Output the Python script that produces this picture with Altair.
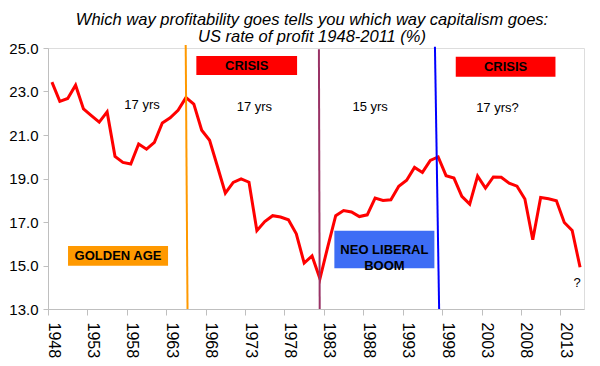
import altair as alt
import pandas as pd

# ---- data -------------------------------------------------------------
years = list(range(1948, 2016))
rate = [23.43, 22.55, 22.68, 23.29, 22.20, 21.89, 21.59, 22.06, 20.02, 19.74,
        19.67, 20.59, 20.35, 20.66, 21.55, 21.79, 22.14, 22.72, 22.42, 21.22,
        20.76, 19.55, 18.33, 18.82, 18.98, 18.83, 16.60, 17.02, 17.29, 17.23,
        17.10, 16.46, 15.11, 15.44, 14.39, 15.87, 17.29, 17.53, 17.46, 17.25,
        17.33, 18.10, 17.99, 18.02, 18.64, 18.92, 19.51, 19.28, 19.83, 19.99,
        19.13, 19.02, 18.18, 17.82, 19.11, 18.56, 19.07, 19.06, 18.78, 18.65,
        18.06, 16.18, 18.13, 18.07, 17.98, 16.98, 16.61, 14.92]

# turning-point lines (year at top, year at bottom, top value)
turn_x = [1964.97, 1981.87, 1996.59]
turn_x2 = [1965.20, 1981.97, 1997.12]
turn_top = [25.14, 24.94, 25.06]
turn_color = ["#FF9900", "#993366", "#0000FF"]

# labelled boxes
box_label = ["CRISIS", "CRISIS", "GOLDEN AGE", "NEO LIBERAL\nBOOM"]
box_x = [1966.32, 1999.23, 1950.04, 1983.83]
box_x2 = [1979.10, 2011.88, 1962.73, 1996.52]
box_y = [24.63, 24.60, 15.90, 16.60]
box_y2 = [23.76, 23.68, 14.99, 14.87]
box_fill = ["#FF0000", "#FF0000", "#FF9900", "#3D6DF5"]

# free text notes
note_text = ["17 yrs", "17 yrs", "15 yrs", "17 yrs?", "?"]
note_x = [1959.43, 1973.68, 1988.37, 2004.52, 2014.63]
note_y = [22.38, 22.27, 22.30, 22.24, 14.21]

x_tick_values = [1947.5 + 5 * k for k in range(14)]
y_tick_values = [13, 15, 17, 19, 21, 23, 25]

FONT = "Liberation Sans"

# ---- tables -------------------------------------------------------------
df = pd.DataFrame({"year": years, "rate": rate})
turns = pd.DataFrame({"x": turn_x, "x2": turn_x2, "top": turn_top,
                      "bottom": [13] * 3, "color": turn_color})
boxes = pd.DataFrame({"label": box_label, "x": box_x, "x2": box_x2,
                      "y": box_y, "y2": box_y2, "fill": box_fill})
boxes["cx"] = (boxes["x"] + boxes["x2"]) / 2
boxes["cy"] = (boxes["y"] + boxes["y2"]) / 2
notes = pd.DataFrame({"text": note_text, "x": note_x, "y": note_y})

xscale = alt.Scale(domain=[1947.5, 2015.5], nice=False, zero=False)
yscale = alt.Scale(domain=[13, 25], nice=False, zero=False)

xaxis = alt.Axis(values=x_tick_values, labelExpr="format(datum.value + 0.5, 'd')",
                 labelAngle=90, labelAlign="left", labelBaseline="alphabetic",
                 labelFontSize=16, labelFont=FONT, labelColor="black",
                 tickSize=6, labelPadding=7, domainColor="#BFBFBF",
                 tickColor="#BFBFBF", grid=False, title=None)
yaxis = alt.Axis(values=y_tick_values, format=".1f", labelFontSize=15,
                 labelFont=FONT, labelColor="black", tickSize=5,
                 labelPadding=5, domainColor="#BFBFBF", tickColor="#BFBFBF",
                 grid=False, title=None)

line = alt.Chart(df).mark_line(color="#FF0000", strokeWidth=3).encode(
    x=alt.X("year:Q", scale=xscale, axis=xaxis),
    y=alt.Y("rate:Q", scale=yscale, axis=yaxis),
)

rules = alt.Chart(turns).mark_rule(strokeWidth=2).encode(
    x="x:Q", x2="x2:Q", y="top:Q", y2="bottom:Q",
    color=alt.Color("color:N", scale=None),
)

rects = alt.Chart(boxes).mark_rect().encode(
    x="x:Q", x2="x2:Q", y="y:Q", y2="y2:Q",
    color=alt.Color("fill:N", scale=None),
)

box_text = alt.Chart(boxes).transform_calculate(
    lines="split(datum.label, '\\n')"
).mark_text(font=FONT, fontSize=13, fontWeight="bold", color="black",
            lineHeight=16, align="center", baseline="middle").encode(
    x="cx:Q", y="cy:Q", text="lines:N",
)

note_marks = alt.Chart(notes).mark_text(font=FONT, fontSize=13, color="black",
                                        align="center", baseline="middle").encode(
    x="x:Q", y="y:Q", text="text:N",
)

chart = alt.layer(line, rules, rects, box_text, note_marks).properties(
    width=536, height=261,
    autosize=alt.AutoSizeParams(type="none"),
    padding={"left": 40, "top": 40, "right": 8, "bottom": 49},
    title=alt.TitleParams(
        text=["Which way profitability goes tells you which way capitalism goes:",
              "US rate of profit 1948-2011 (%)"],
        font=FONT, fontSize=16.5, fontStyle="italic", fontWeight="normal",
        color="black", anchor="middle", lineHeight=17, offset=8, dx=-4, dy=12,
    ),
).configure_view(stroke=None).configure(background="white")

chart.save("out.html", embed_options={"renderer": "svg", "actions": False})
